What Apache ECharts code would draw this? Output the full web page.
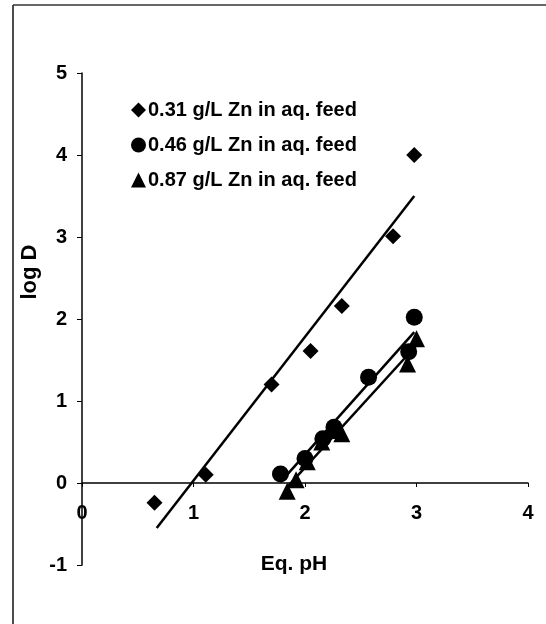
<!DOCTYPE html>
<html lang="en">
<head>
<meta charset="UTF-8">
<title>log D vs Eq. pH</title>
<script src="https://cdn.jsdelivr.net/npm/echarts@6/dist/echarts.min.js"></script>
<style>
  body { margin: 0; background: #fff; overflow: hidden; }
  #chart { width: 546px; height: 624px; }
</style>
</head>
<body>
<div id="chart"></div>
<script>
// Series names (legend)
const seriesNames = [
  '0.31 g/L Zn in aq. feed',
  '0.46 g/L Zn in aq. feed',
  '0.87 g/L Zn in aq. feed'
]

// Measured points: Eq. pH → log D
const zn031X = [0.65, 1.11, 1.70, 2.05, 2.33, 2.79, 2.98]
const zn031Y = [-0.24, 0.10, 1.20, 1.61, 2.16, 3.01, 4.00]
const zn046X = [1.78, 2.00, 2.16, 2.26, 2.57, 2.93, 2.98]
const zn046Y = [0.11, 0.30, 0.54, 0.68, 1.29, 1.60, 2.02]
const zn087X = [1.84, 1.92, 2.02, 2.15, 2.24, 2.33, 2.92, 3.00]
const zn087Y = [-0.10, 0.04, 0.26, 0.50, 0.64, 0.60, 1.45, 1.76]

// Fitted lines, end points
const fit031 = [[0.67, -0.55], [2.98, 3.50]]
const fit046 = [[1.78, 0.01], [2.98, 1.84]]
const fit087 = [[1.84, -0.05], [3.00, 1.68]]

const FONT = 'Liberation Sans, Arial, sans-serif'
const pairs = (xs, ys) => xs.map((x, i) => [x, ys[i]])

const chart = echarts.init(document.getElementById('chart'), null, { renderer: 'canvas' })

const scatter = (name, symbol, size, xs, ys) => ({
  name,
  type: 'scatter',
  symbol,
  symbolSize: size,
  data: pairs(xs, ys),
  itemStyle: { color: '#000', opacity: 1 },
  z: 3
})

const fitLine = (pts) => ({
  type: 'line',
  data: pts,
  showSymbol: false,
  silent: true,
  lineStyle: { color: '#000', width: 2.5 },
  z: 2
})

chart.setOption({
  backgroundColor: '#fff',
  animation: false,
  grid: { left: 82, right: 18, top: 73, bottom: 59 },
  legend: {
    data: seriesNames.map((n, i) => ({ name: n, icon: ['diamond', 'circle', 'triangle'][i] })),
    orient: 'vertical',
    left: 126,
    top: 95,
    itemWidth: 15,
    itemHeight: 15,
    itemGap: 15,
    textStyle: { color: '#000', fontSize: 20, fontWeight: 'bold', fontFamily: FONT, padding: [0, 0, 0, -3] }
  },
  xAxis: {
    type: 'value',
    min: 0,
    max: 4,
    interval: 1,
    // whole axis (line + labels) sits at log D = 0
    offset: -82,
    axisLine: { onZero: false, lineStyle: { color: '#000', width: 1.5 } },
    axisTick: { show: true, inside: false, length: 4, lineStyle: { color: '#000' } },
    axisLabel: { color: '#000', fontSize: 20, fontWeight: 'bold', fontFamily: FONT, margin: 20 },
    splitLine: { show: false }
  },
  yAxis: {
    type: 'value',
    min: -1,
    max: 5,
    interval: 1,
    axisLine: { show: true, lineStyle: { color: '#000', width: 1.5 } },
    axisTick: { show: true, inside: false, length: 5, lineStyle: { color: '#000' } },
    axisLabel: { color: '#000', fontSize: 20, fontWeight: 'bold', fontFamily: FONT, margin: 15 },
    splitLine: { show: false }
  },
  graphic: [
    // scanned frame edges
    { type: 'line', shape: { x1: 13, y1: 5, x2: 13, y2: 624 }, style: { stroke: '#111', lineWidth: 1.5 } },
    { type: 'line', shape: { x1: 13, y1: 5, x2: 546, y2: 5 }, style: { stroke: '#333', lineWidth: 1.5 } },
    {
      type: 'text', x: 30, y: 272, rotation: Math.PI / 2,
      style: { text: 'log D', fill: '#000', font: 'bold 22px ' + FONT, align: 'center', verticalAlign: 'middle' }
    },
    {
      type: 'text', x: 294, y: 564,
      style: { text: 'Eq. pH', fill: '#000', font: 'bold 21px ' + FONT, align: 'center', verticalAlign: 'middle' }
    }
  ],
  series: [
    fitLine(fit031),
    fitLine(fit046),
    fitLine(fit087),
    scatter(seriesNames[0], 'diamond', 16, zn031X, zn031Y),
    scatter(seriesNames[1], 'circle', 17, zn046X, zn046Y),
    scatter(seriesNames[2], 'triangle', 17, zn087X, zn087Y)
  ]
})
</script>
</body>
</html>
